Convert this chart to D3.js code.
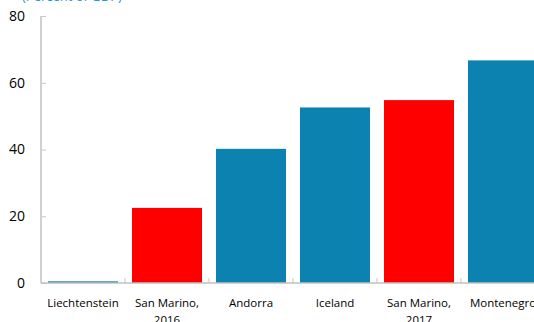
<!DOCTYPE html>
<html>
<head>
<meta charset="utf-8">
<script src="https://cdn.jsdelivr.net/npm/d3@7/dist/d3.min.js"></script>
<style>
  html, body { margin: 0; padding: 0; background: #fff; overflow: hidden; }
  svg { display: block; font-family: "Open Sans", "Noto Sans", sans-serif; }
</style>
</head>
<body>
<svg id="chart" width="534" height="322"></svg>
<script>
// Data
const categories = ["Liechtenstein", "San Marino,\n2016", "Andorra", "Iceland", "San Marino,\n2017", "Montenegro"];
const values = [0.5, 22.5, 40.2, 52.6, 54.8, 66.7];
const highlight = [false, true, false, false, true, false];
const yTicks = [0, 20, 40, 60, 80];
const subtitle = "(Percent of GDP)";

const svg = d3.select("#chart");
const plot = { left: 41, top: 16, bottom: 283 };
const step = 84;

const x = d3.scaleBand()
  .domain(categories)
  .range([plot.left, plot.left + step * categories.length])
  .paddingInner(14 / 84)
  .paddingOuter(7 / 84);

const y = d3.scaleLinear().domain([0, 80]).range([plot.bottom, plot.top]);

// Subtitle (units)
svg.append("text")
  .attr("x", 22).attr("y", 1)
  .attr("fill", "#1d9ad6")
  .attr("font-size", 13)
  .text(subtitle);

// Bars
svg.append("g").selectAll("rect")
  .data(categories)
  .join("rect")
  .attr("x", d => x(d))
  .attr("width", x.bandwidth())
  .attr("y", (d, i) => y(values[i]))
  .attr("height", (d, i) => y(0) - y(values[i]))
  .attr("fill", (d, i) => highlight[i] ? "#ff0000" : "#0b82af");

// Y axis: ticks point inward
const yAxis = svg.append("g")
  .attr("transform", `translate(${plot.left},0)`)
  .call(d3.axisRight(y).tickValues(yTicks).tickSize(5).tickFormat(""));
yAxis.select(".domain").attr("stroke", "#c0c0c0").attr("stroke-width", 1.5)
  .attr("d", `M0,${plot.top}V${plot.bottom}`);
yAxis.selectAll(".tick line").attr("stroke", "#c8c8c8");

svg.append("g").selectAll("text")
  .data(yTicks)
  .join("text")
  .attr("x", 25)
  .attr("y", d => y(d))
  .attr("dy", "0.35em")
  .attr("text-anchor", "end")
  .attr("font-size", 14)
  .attr("fill", "#000")
  .text(d => d);

// X axis with ticks at category boundaries
svg.append("line")
  .attr("x1", plot.left).attr("x2", 534)
  .attr("y1", plot.bottom).attr("y2", plot.bottom)
  .attr("stroke", "#c0c0c0").attr("stroke-width", 1.5);

svg.append("g").selectAll("line")
  .data(categories.slice(1))
  .join("line")
  .attr("x1", d => x(d) - x.step() * x.paddingInner() / 2)
  .attr("x2", d => x(d) - x.step() * x.paddingInner() / 2)
  .attr("y1", plot.bottom - 5).attr("y2", plot.bottom)
  .attr("stroke", "#c8c8c8");

// Category labels (may wrap to two lines)
const labels = svg.append("g").selectAll("text")
  .data(categories)
  .join("text")
  .attr("x", d => x(d) + x.bandwidth() / 2)
  .attr("y", 306.5)
  .attr("text-anchor", "middle")
  .attr("font-size", 11.5)
  .attr("fill", "#000");
labels.each(function(d) {
  const t = d3.select(this);
  d.split("\n").forEach((line, i) => {
    t.append("tspan")
      .attr("x", t.attr("x"))
      .attr("dy", i === 0 ? 0 : 17.5)
      .text(line);
  });
});
</script>
</body>
</html>
